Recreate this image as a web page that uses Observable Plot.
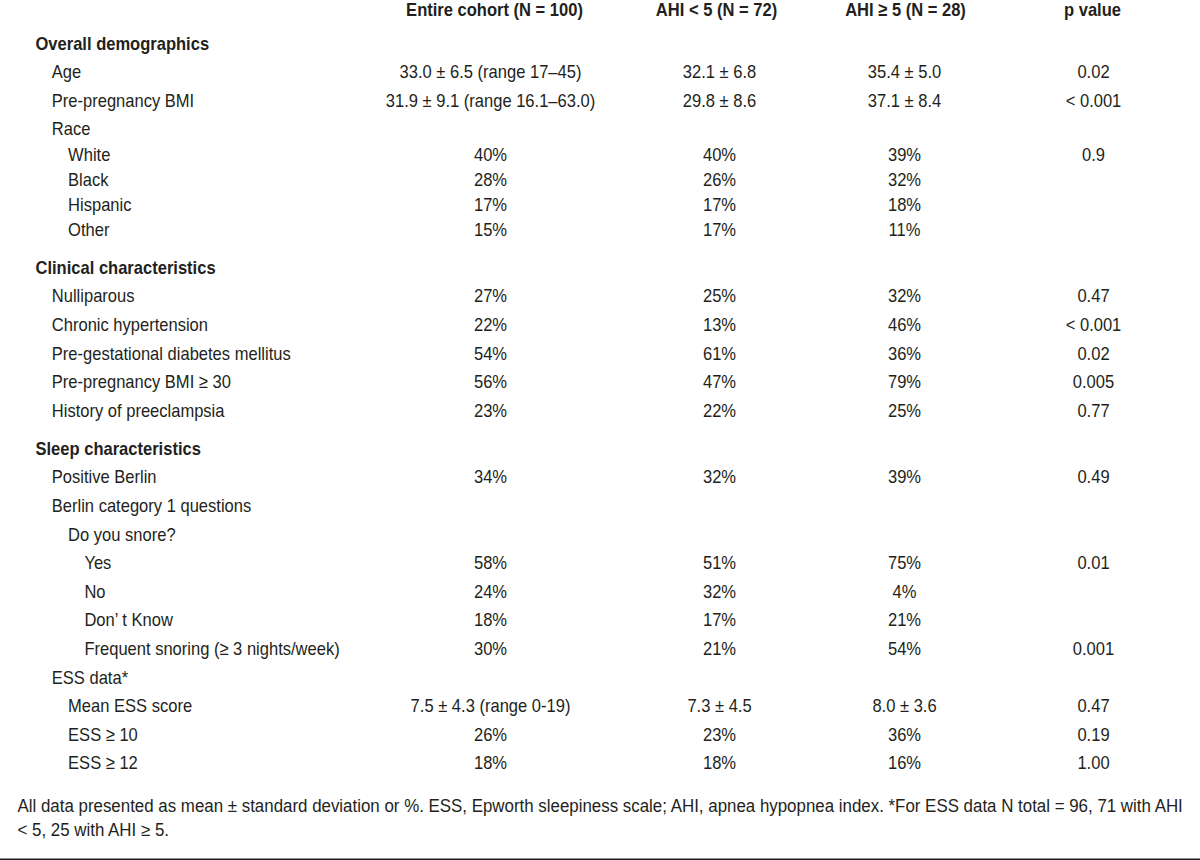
<!DOCTYPE html>
<html>
<head>
<meta charset="utf-8">
<script src="https://cdn.jsdelivr.net/npm/d3@7"></script>
<script src="https://cdn.jsdelivr.net/npm/@observablehq/plot@0.6"></script>
<style>
  html, body { margin: 0; padding: 0; background: #fff; overflow: hidden; }
  #chart svg { display: block; }
</style>
</head>
<body>
<div id="chart"></div>
<script>
// ---- data ----
const headers = ["Entire cohort (N = 100)", "AHI < 5 (N = 72)", "AHI ≥ 5 (N = 28)", "p value"];

const rowLabels = [
  "Overall demographics", "Age", "Pre-pregnancy BMI", "Race",
  "White", "Black", "Hispanic", "Other",
  "Clinical characteristics", "Nulliparous", "Chronic hypertension",
  "Pre-gestational diabetes mellitus", "Pre-pregnancy BMI ≥ 30", "History of preeclampsia",
  "Sleep characteristics", "Positive Berlin", "Berlin category 1 questions",
  "Do you snore?", "Yes", "No", "Don’ t Know", "Frequent snoring (≥ 3 nights/week)",
  "ESS data*", "Mean ESS score", "ESS ≥ 10", "ESS ≥ 12"
];
// 0 = section heading, 1..3 = indent level
const rowLevels = [0,1,1,1, 2,2,2,2, 0,1,1,1,1,1, 0,1,1, 2,3,3,3,3, 1,2,2,2];

const entireCohort = [
  "", "33.0 ± 6.5 (range 17–45)", "31.9 ± 9.1 (range 16.1–63.0)", "",
  "40%", "28%", "17%", "15%",
  "", "27%", "22%", "54%", "56%", "23%",
  "", "34%", "", "", "58%", "24%", "18%", "30%",
  "", "7.5 ± 4.3 (range 0-19)", "26%", "18%"
];
const ahiBelow5 = [
  "", "32.1 ± 6.8", "29.8 ± 8.6", "",
  "40%", "26%", "17%", "17%",
  "", "25%", "13%", "61%", "47%", "22%",
  "", "32%", "", "", "51%", "32%", "17%", "21%",
  "", "7.3 ± 4.5", "23%", "18%"
];
const ahiAtLeast5 = [
  "", "35.4 ± 5.0", "37.1 ± 8.4", "",
  "39%", "32%", "18%", "11%",
  "", "32%", "46%", "36%", "79%", "25%",
  "", "39%", "", "", "75%", "4%", "21%", "54%",
  "", "8.0 ± 3.6", "36%", "16%"
];
const pValues = [
  "", "0.02", "< 0.001", "",
  "0.9", "", "", "",
  "", "0.47", "< 0.001", "0.02", "0.005", "0.77",
  "", "0.49", "", "", "0.01", "", "", "0.001",
  "", "0.47", "0.19", "1.00"
];

const footnoteLines = [
  "All data presented as mean ± standard deviation or %. ESS, Epworth sleepiness scale; AHI, apnea hypopnea index. *For ESS data N total = 96, 71 with AHI",
  "< 5, 25 with AHI ≥ 5."
];

// ---- layout (not data) ----
const INK = "#231f20";
const FONT = "'Liberation Sans', Arial, Helvetica, sans-serif";
const labelX0 = 35, indentStep = 16.3;
const colX = [490, 719, 904, 1093];
const headerX = [494, 716, 905, 1092];

// row positions in "row units": sections get extra space, race sub-items are tighter
const rowU = [];
{
  let u = 0;
  rowLabels.forEach((lab, i) => {
    if (i > 0) {
      if (rowLevels[i] === 0) u += 1.33;
      else if (i >= 5 && i <= 7) u += 0.87;
      else if (i === 4) u += 0.9;
      else u += 1;
    }
    rowU.push(u);
  });
}
const headerU = -1.19;
const footU = [26.68, 27.52];
const ruleU = 28.53;

const labelRows = rowLabels.map((t, i) => ({t, u: rowU[i], x: labelX0 + rowLevels[i] * indentStep, bold: rowLevels[i] === 0}));
const columns = [entireCohort, ahiBelow5, ahiAtLeast5, pValues];
const cells = [];
columns.forEach((col, c) => col.forEach((t, i) => { if (t) cells.push({t, u: rowU[i], x: colX[c]}); }));
const headerCells = headers.map((t, c) => ({t, u: headerU, x: headerX[c]}));
const footCells = footnoteLines.map((t, k) => ({t, u: footU[k], x: 17}));

const chart = Plot.plot({
  width: 1200,
  height: 860,
  margin: 0,
  style: {background: "#fff", fontFamily: FONT},
  x: {domain: [0, 1200], range: [0, 1200], axis: null},
  y: {domain: [-1.503, 28.566], range: [0, 860], axis: null},
  marks: [
    Plot.text(headerCells, {x: "x", y: "u", text: "t", textAnchor: "middle", fontWeight: "bold", fontSize: 19, fill: INK, className: "cond"}),
    Plot.text(labelRows.filter(d => d.bold), {x: "x", y: "u", text: "t", textAnchor: "start", fontWeight: "bold", fontSize: 19, fill: INK, className: "cond"}),
    Plot.text(labelRows.filter(d => !d.bold), {x: "x", y: "u", text: "t", textAnchor: "start", fontSize: 19, fill: INK, className: "cond"}),
    Plot.text(cells, {x: "x", y: "u", text: "t", textAnchor: "middle", fontSize: 19, fill: INK, className: "cond"}),
    Plot.text(footCells, {x: "x", y: "u", text: "t", textAnchor: "start", fontSize: 17.5, fill: INK, className: "foot"}),
    Plot.ruleY([ruleU], {x1: 0, x2: 1200, stroke: INK, strokeWidth: 2})
  ]
});

document.getElementById("chart").appendChild(chart);

// condense glyphs horizontally (the reference uses a narrow Helvetica)
function condense(sel, k) {
  chart.querySelectorAll(sel + " text").forEach(t => {
    const w = t.getComputedTextLength();
    if (w > 0) {
      t.setAttribute("textLength", (w * k).toFixed(1));
      t.setAttribute("lengthAdjust", "spacingAndGlyphs");
    }
  });
}
condense(".cond", 0.87);
condense(".foot", 0.965);
</script>
</body>
</html>
